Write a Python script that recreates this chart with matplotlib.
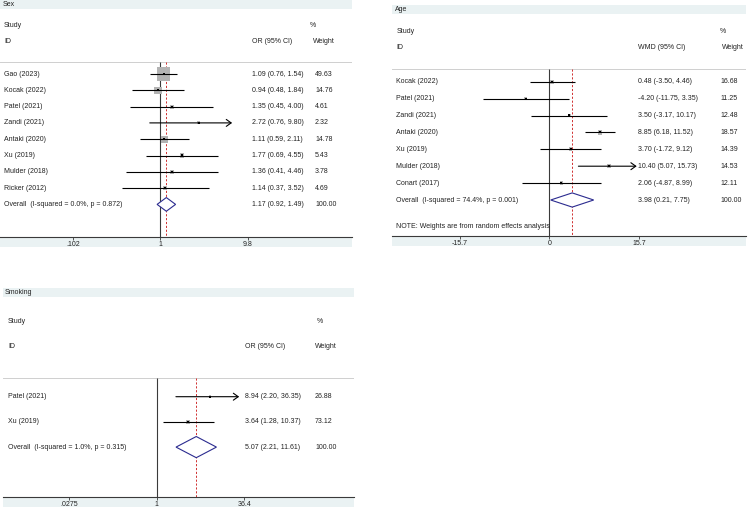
import numpy as np
import matplotlib.pyplot as plt
from matplotlib.patches import Polygon, Rectangle
import matplotlib.transforms as mtransforms

plt.rcParams['font.family'] = ['Liberation Sans', 'DejaVu Sans']

# --- data: Sex (OR) ---
sex_studies = ['Gao (2023)', 'Kocak (2022)', 'Patel (2021)', 'Zandi (2021)',
               'Antaki (2020)', 'Xu (2019)', 'Mulder (2018)', 'Ricker (2012)']
sex_est = [1.09, 0.94, 1.35, 2.72, 1.11, 1.77, 1.36, 1.14]
sex_lo = [0.76, 0.48, 0.45, 0.76, 0.59, 0.69, 0.41, 0.37]
sex_hi = [1.54, 1.84, 4.00, 9.80, 2.11, 4.55, 4.46, 3.52]
sex_w = [49.63, 14.76, 4.61, 2.32, 14.78, 5.43, 3.78, 4.69]
sex_overall = (1.17, 0.92, 1.49)
sex_het = 'Overall  (I-squared = 0.0%, p = 0.872)'
sex_ticks = [0.102, 1, 9.8]
sex_ticklabels = ['.102', '1', '9.8']

# --- data: Age (WMD) ---
age_studies = ['Kocak (2022)', 'Patel (2021)', 'Zandi (2021)', 'Antaki (2020)',
               'Xu (2019)', 'Mulder (2018)', 'Conart (2017)']
age_est = [0.48, -4.20, 3.50, 8.85, 3.70, 10.40, 2.06]
age_lo = [-3.50, -11.75, -3.17, 6.18, -1.72, 5.07, -4.87]
age_hi = [4.46, 3.35, 10.17, 11.52, 9.12, 15.73, 8.99]
age_w = [16.68, 11.25, 12.48, 18.57, 14.39, 14.53, 12.11]
age_overall = (3.98, 0.21, 7.75)
age_het = 'Overall  (I-squared = 74.4%, p = 0.001)'
age_ticks = [-15.7, 0, 15.7]
age_ticklabels = ['-15.7', '0', '15.7']

# --- data: Smoking (OR) ---
smk_studies = ['Patel (2021)', 'Xu (2019)']
smk_est = [8.94, 3.64]
smk_lo = [2.20, 1.28]
smk_hi = [36.35, 10.37]
smk_w = [26.88, 73.12]
smk_overall = (5.07, 2.21, 11.61)
smk_het = 'Overall  (I-squared = 1.0%, p = 0.315)'
smk_ticks = [0.0275, 1, 36.4]
smk_ticklabels = ['.0275', '1', '36.4']

W, H = 750, 516
BAND = '#eaf2f3'
TXT = '#222222'
FS = 5

fig = plt.figure(figsize=(W / 100, H / 100), dpi=100)


def forest(title, studies, est, lo, hi, w, overall, het, ticks, ticklabels,
           effect_label, rect, row0, step, log, null_px, ppu, cols,
           box_k, clip_hi, note=None, note_row=None):
    left, top, right, bottom = rect
    ax = fig.add_axes([left / W, 1 - bottom / H, (right - left) / W, (bottom - top) / H])
    ax.patch.set_alpha(0)
    top_row = (top - row0) / step
    bot_row = (bottom - row0) / step
    ax.set_ylim(bot_row, top_row)
    if log:
        ax.set_xscale('log')
        ax.set_xlim(10 ** ((left - null_px) / ppu), 10 ** ((right - null_px) / ppu))
        null = 1
    else:
        ax.set_xlim((left - null_px) / ppu, (right - null_px) / ppu)
        null = 0
    tr = mtransforms.blended_transform_factory(ax.transAxes, ax.transData)
    fx = lambda px: (px - left) / (right - left)

    # title band and header
    ax.add_patch(Rectangle((0, top_row + 8.5 / step), 1, -8.5 / step, transform=tr,
                           facecolor=BAND, edgecolor='none', clip_on=False, zorder=0))
    ax.text(fx(cols['title']), top_row + 4.3 / step, title, transform=tr, fontsize=FS,
            color=TXT, va='center', ha='left')
    ax.text(fx(cols['name']), -3, 'Study', transform=tr, fontsize=FS, color=TXT, va='center')
    ax.text(fx(cols['name']), -2, 'ID', transform=tr, fontsize=FS, color=TXT, va='center')
    ax.text(fx(cols['val']), -2, effect_label, transform=tr, fontsize=FS, color=TXT, va='center')
    ax.text(fx(cols['pct']), -3, '%', transform=tr, fontsize=FS, color=TXT, va='center')
    ax.text(fx(cols['wlab']), -2, 'Weight', transform=tr, fontsize=FS, color=TXT, va='center')
    sep = -0.75
    ax.axhline(sep, color='#cfcfcf', lw=0.7, zorder=1)

    n = len(studies)
    rows = np.arange(n)
    ax.vlines(null, sep, bot_row, color='#3a3a3a', lw=0.8, zorder=2)
    ax.vlines(overall[0], sep, bot_row, color='#d03030', lw=0.7,
              linestyles=(0, (2.2, 1.8)), zorder=2)

    for i in range(n):
        h = min(hi[i], clip_hi)
        if hi[i] >= clip_hi:
            ax.annotate('', xy=(h, rows[i]), xytext=(lo[i], rows[i]),
                        arrowprops=dict(arrowstyle='->, head_length=0.35, head_width=0.25',
                                        lw=0.8, color='black', mutation_scale=10,
                                        shrinkA=0, shrinkB=0),
                        zorder=3)
        else:
            ax.hlines(rows[i], lo[i], h, color='black', lw=0.8, zorder=3)
    ax.scatter(est, rows, s=np.array(w) * box_k, marker='s', color='#b3b3b3',
               edgecolors='none', zorder=2.5)
    ax.scatter(est, rows, s=2.2, marker='s', color='black', edgecolors='none', zorder=4)

    orow = n
    e, l, u = overall
    ax.add_patch(Polygon([(l, orow), (e, orow - 0.42), (u, orow), (e, orow + 0.42)],
                         closed=True, facecolor='white', edgecolor='#2b2b8f', lw=0.8,
                         zorder=4))

    labels = list(studies) + [het]
    vals = [f'{a:.2f} ({b:.2f}, {c:.2f})' for a, b, c in zip(est, lo, hi)]
    vals.append(f'{e:.2f} ({l:.2f}, {u:.2f})')
    wts = [f'{x:.2f}' for x in w] + ['100.00']
    for i in range(n + 1):
        ax.text(fx(cols['name']), i, labels[i], transform=tr, fontsize=FS, color=TXT, va='center')
        ax.text(fx(cols['val']), i, vals[i], transform=tr, fontsize=FS, color=TXT, va='center')
        ax.text(fx(cols['wt']), i, wts[i], transform=tr, fontsize=FS, color=TXT, va='center')
    if note:
        ax.text(fx(cols['name']), note_row, note, transform=tr, fontsize=FS, color=TXT,
                va='center')

    # axis
    for s in ['top', 'left', 'right']:
        ax.spines[s].set_visible(False)
    ax.spines['bottom'].set_color('#3a3a3a')
    ax.spines['bottom'].set_linewidth(0.8)
    ax.set_yticks([])
    ax.set_xticks(ticks)
    ax.set_xticklabels(ticklabels)
    ax.xaxis.set_minor_locator(plt.NullLocator())
    ax.tick_params(axis='x', direction='out', length=2.5, width=0.6, pad=0.8,
                   labelsize=FS, colors='#3a3a3a', labelcolor=TXT)
    ax.add_patch(Rectangle((0, -10 / (bottom - top)), 1, 10 / (bottom - top),
                           transform=ax.transAxes, facecolor=BAND, edgecolor='none',
                           clip_on=False, zorder=0))
    return ax


forest('Sex', sex_studies, sex_est, sex_lo, sex_hi, sex_w, sex_overall, sex_het,
       sex_ticks, sex_ticklabels, 'OR (95% CI)',
       rect=(0, 0, 352, 236.7), row0=74, step=16.3, log=True, null_px=160.3, ppu=88.3,
       cols=dict(title=3, name=4, val=252, pct=310, wlab=313, wt=315),
       box_k=1.87, clip_hi=6.5)

forest('Age', age_studies, age_est, age_lo, age_hi, age_w, age_overall, age_het,
       age_ticks, age_ticklabels, 'WMD (95% CI)',
       rect=(392, 5, 746, 235.7), row0=81.7, step=16.9, log=False, null_px=549.5, ppu=5.7,
       cols=dict(title=395, name=396.5, val=638.3, pct=720, wlab=721.7, wt=720),
       box_k=0.5, clip_hi=15.3,
       note='NOTE: Weights are from random effects analysis', note_row=8.58)

forest('Smoking', smk_studies, smk_est, smk_lo, smk_hi, smk_w, smk_overall, smk_het,
       smk_ticks, smk_ticklabels, 'OR (95% CI)',
       rect=(3, 288, 354, 496.7), row0=396.7, step=25.2, log=True, null_px=156.7, ppu=56.1,
       cols=dict(title=5, name=8, val=245, pct=316.7, wlab=315, wt=315),
       box_k=0.13, clip_hi=29.5)

fig.savefig('out.png', dpi=100)
